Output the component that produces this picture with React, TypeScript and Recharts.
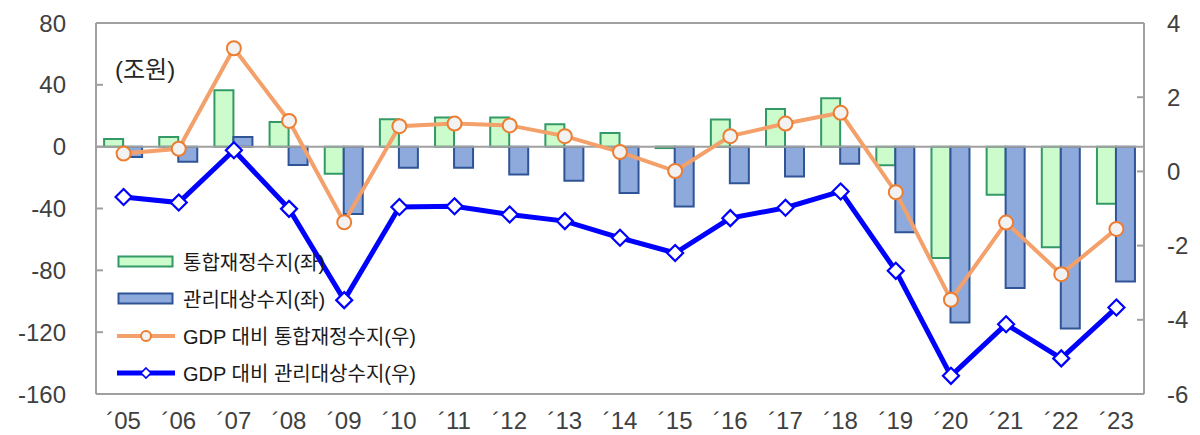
import React from "react";
import {
  ComposedChart,
  Bar,
  Line,
  XAxis,
  YAxis,
  ReferenceLine,
} from "recharts";

// 연도 라벨
const years = [
  "´05", "´06", "´07", "´08", "´09", "´10", "´11", "´12", "´13", "´14",
  "´15", "´16", "´17", "´18", "´19", "´20", "´21", "´22", "´23",
];

// 조원 (좌축)
const consolidatedBalance = [
  4.9, 6.2, 36.5, 16.0, -17.5, 17.7, 18.8, 18.8, 14.5, 8.8,
  -0.9, 17.5, 24.4, 31.3, -12.1, -72.0, -31.1, -65.1, -37.0,
];
const managedBalance = [
  -6.7, -9.7, 6.2, -11.9, -43.5, -13.6, -13.6, -18.0, -22.0, -30.0,
  -38.7, -23.6, -19.3, -11.0, -55.4, -113.7, -91.4, -117.6, -87.2,
];

// GDP 대비 % (우축)
const consolidatedRatio = [
  0.48, 0.61, 3.32, 1.36, -1.37, 1.22, 1.29, 1.24, 0.95, 0.52,
  0.01, 0.95, 1.29, 1.58, -0.56, -3.46, -1.38, -2.77, -1.55,
];
const managedRatio = [
  -0.69, -0.84, 0.57, -1.01, -3.47, -0.96, -0.94, -1.16, -1.34, -1.79,
  -2.2, -1.26, -0.98, -0.54, -2.68, -5.51, -4.12, -5.04, -3.67,
];

const leftTicks = [80, 40, 0, -40, -80, -120, -160];
const rightTicks = [4, 2, 0, -2, -4, -6];

const seriesNames = [
  "통합재정수지(좌)",
  "관리대상수지(좌)",
  "GDP 대비 통합재정수지(우)",
  "GDP 대비 관리대상수지(우)",
];

const data = years.map((year, i) => ({
  year,
  consolidated: consolidatedBalance[i],
  managed: managedBalance[i],
  consolidatedRatio: consolidatedRatio[i],
  managedRatio: managedRatio[i],
}));

const FONT = "'Liberation Sans', 'Noto Sans CJK KR', sans-serif";
const FRAME = "#a0a0a0";
const TICK_COLOR = "#404040";

const GREEN_FILL = "#ccfccc";
const GREEN_STROKE = "#339966";
const BLUE_FILL = "#8eaadc";
const BLUE_STROKE = "#2f5597";
const ORANGE = "#f4a06a";
const ORANGE_DOT = "#ed7d31";
const BLUE_LINE = "#0000ff";

function DiamondDot(props: any) {
  const { cx, cy } = props;
  if (cx == null || cy == null) return null;
  const r = 8;
  return (
    <path
      d={`M${cx},${cy - r} L${cx + r},${cy} L${cx},${cy + r} L${cx - r},${cy} Z`}
      fill="#fff"
      stroke={BLUE_LINE}
      strokeWidth={2.2}
    />
  );
}

function LegendBox() {
  const rowStyle: React.CSSProperties = {
    display: "flex",
    alignItems: "center",
    height: 37,
  };
  const textStyle: React.CSSProperties = {
    marginLeft: 8,
    fontSize: 20,
    color: "#1a1a1a",
    whiteSpace: "nowrap",
  };
  return (
    <div
      style={{
        position: "absolute",
        left: 117,
        top: 243,
        fontFamily: FONT,
      }}
    >
      <div style={rowStyle}>
        <svg width={58} height={14}>
          <rect x={1.5} y={1.5} width={54} height={10} fill={GREEN_FILL} stroke={GREEN_STROKE} strokeWidth={2} />
        </svg>
        <span style={textStyle}>{seriesNames[0]}</span>
      </div>
      <div style={rowStyle}>
        <svg width={58} height={14}>
          <rect x={1.5} y={1.5} width={54} height={10} fill={BLUE_FILL} stroke={BLUE_STROKE} strokeWidth={2} />
        </svg>
        <span style={textStyle}>{seriesNames[1]}</span>
      </div>
      <div style={rowStyle}>
        <svg width={58} height={14}>
          <line x1={0} y1={7} x2={58} y2={7} stroke={ORANGE} strokeWidth={4} />
          <circle cx={29} cy={7} r={5} fill="#f2f2f2" stroke={ORANGE_DOT} strokeWidth={2} />
        </svg>
        <span style={textStyle}>{seriesNames[2]}</span>
      </div>
      <div style={rowStyle}>
        <svg width={58} height={14}>
          <line x1={0} y1={7} x2={58} y2={7} stroke={BLUE_LINE} strokeWidth={5} />
          <path d="M29,2 L34,7 L29,12 L24,7 Z" fill="#fff" stroke={BLUE_LINE} strokeWidth={1.6} />
        </svg>
        <span style={textStyle}>{seriesNames[3]}</span>
      </div>
    </div>
  );
}

export default function App() {
  const tickStyle = { fontSize: 24, fill: TICK_COLOR, fontFamily: FONT };

  return (
    <div
      style={{
        position: "absolute",
        left: 0,
        top: 0,
        width: 1200,
        height: 435,
        background: "#fff",
        fontFamily: FONT,
      }}
    >
      <ComposedChart
        width={1200}
        height={435}
        data={data}
        margin={{ top: 23, right: 6, left: 6, bottom: 5 }}
        barCategoryGap="14.7%"
        barGap={0}
      >
        <XAxis
          dataKey="year"
          height={36}
          axisLine={{ stroke: FRAME, strokeWidth: 2 }}
          tickLine={false}
          tickSize={0}
          tickMargin={18}
          tick={tickStyle}
          interval={0}
        />
        <YAxis
          yAxisId="left"
          orientation="left"
          width={90}
          domain={[-160, 80]}
          ticks={leftTicks}
          interval={0}
          allowDataOverflow
          axisLine={{ stroke: FRAME, strokeWidth: 2 }}
          tickLine={{ stroke: FRAME, strokeWidth: 2 }}
          tickSize={-7}
          tickMargin={37}
          tick={tickStyle}
        />
        <YAxis
          yAxisId="right"
          orientation="right"
          width={50}
          domain={[-6, 4]}
          ticks={rightTicks}
          interval={0}
          allowDataOverflow
          axisLine={{ stroke: FRAME, strokeWidth: 2 }}
          tickLine={{ stroke: FRAME, strokeWidth: 2 }}
          tickSize={-7}
          tickMargin={30}
          tick={tickStyle}
        />
        <ReferenceLine yAxisId="left" y={80} stroke={FRAME} strokeWidth={2} />
        <Bar
          yAxisId="left"
          dataKey="consolidated"
          name={seriesNames[0]}
          fill={GREEN_FILL}
          stroke={GREEN_STROKE}
          strokeWidth={2}
          isAnimationActive={false}
        />
        <Bar
          yAxisId="left"
          dataKey="managed"
          name={seriesNames[1]}
          fill={BLUE_FILL}
          stroke={BLUE_STROKE}
          strokeWidth={2}
          isAnimationActive={false}
        />
        <ReferenceLine yAxisId="left" y={0} stroke={FRAME} strokeWidth={2} />
        <Line
          yAxisId="right"
          dataKey="consolidatedRatio"
          name={seriesNames[2]}
          stroke={ORANGE}
          strokeWidth={4}
          dot={{ r: 7, fill: "#f2f2f2", stroke: ORANGE_DOT, strokeWidth: 2 }}
          activeDot={false}
          isAnimationActive={false}
        />
        <Line
          yAxisId="right"
          dataKey="managedRatio"
          name={seriesNames[3]}
          stroke={BLUE_LINE}
          strokeWidth={5}
          dot={<DiamondDot />}
          activeDot={false}
          isAnimationActive={false}
        />
      </ComposedChart>
      <div
        style={{
          position: "absolute",
          left: 115,
          top: 50,
          fontSize: 24,
          color: "#262626",
        }}
      >
        (조원)
      </div>
      <LegendBox />
    </div>
  );
}
